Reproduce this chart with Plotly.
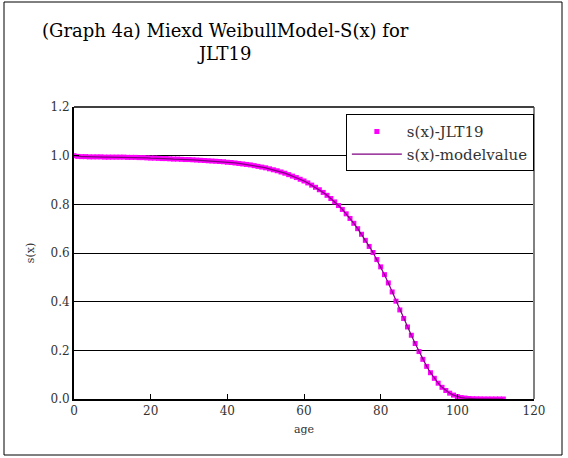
import plotly.graph_objects as go

ages = list(range(0, 113))
s_jlt19 = [
    1.000, 0.997, 0.996, 0.996, 0.995, 0.995, 0.995, 0.995, 0.994, 0.994,
    0.994, 0.994, 0.994, 0.994, 0.993, 0.993, 0.993, 0.992, 0.992, 0.991,
    0.990, 0.990, 0.989, 0.988, 0.988, 0.987, 0.986, 0.986, 0.985, 0.984,
    0.984, 0.983, 0.982, 0.981, 0.980, 0.979, 0.978, 0.977, 0.976, 0.975,
    0.973, 0.972, 0.970, 0.968, 0.966, 0.964, 0.962, 0.959, 0.956, 0.953,
    0.950, 0.946, 0.942, 0.938, 0.933, 0.928, 0.922, 0.916, 0.910, 0.903,
    0.896, 0.888, 0.879, 0.870, 0.860, 0.849, 0.837, 0.824, 0.810, 0.795,
    0.779, 0.761, 0.742, 0.722, 0.700, 0.677, 0.652, 0.627, 0.602, 0.573,
    0.543, 0.511, 0.477, 0.440, 0.402, 0.366, 0.331, 0.296, 0.262, 0.228,
    0.195, 0.163, 0.134, 0.108, 0.085, 0.065, 0.048, 0.035, 0.024, 0.016,
    0.010, 0.006, 0.004, 0.002, 0.001, 0.0006, 0.0003, 0.0001, 0.0000, 0.0000,
    0.0000, 0.0000, 0.0000,
]
s_model = list(s_jlt19)

x_ticks = [0, 20, 40, 60, 80, 100, 120]
y_ticks = [0.0, 0.2, 0.4, 0.6, 0.8, 1.0, 1.2]

FONT = "DejaVu Serif"

fig = go.Figure()
fig.add_trace(go.Scatter(
    x=ages, y=s_jlt19, mode="markers", name="s(x)-JLT19",
    marker=dict(symbol="square", size=5, color="#FF00FF", line=dict(width=0)),
))
fig.add_trace(go.Scatter(
    x=ages, y=s_model, mode="lines", name="s(x)-modelvalue",
    line=dict(color="#800080", width=1.2),
))

fig.update_layout(
    width=568, height=458,
    margin=dict(l=74, r=34, t=107, b=59),
    paper_bgcolor="white", plot_bgcolor="white",
    font=dict(family=FONT, color="#333333"),
    showlegend=True,
    legend=dict(
        x=0.591, y=0.975, xanchor="left", yanchor="top",
        bordercolor="black", borderwidth=1, bgcolor="white",
        font=dict(family=FONT, size=15, color="#333333"),
        tracegroupgap=0, itemwidth=50,
    ),
    annotations=[
        dict(
            text="(Graph 4a) Miexd WeibullModel-S(x) for<br>JLT19",
            xref="paper", yref="paper",
            x=(225 - 74) / 460, xanchor="center",
            y=(399 - 18) / 292, yanchor="top",
            showarrow=False, align="center",
            font=dict(family=FONT, size=18, color="black"),
        )
    ],
    xaxis=dict(
        range=[0, 120], tickvals=x_ticks, ticktext=[str(v) for v in x_ticks],
        showgrid=False, zeroline=False, showline=True, linecolor="black", linewidth=2,
        ticks="inside", ticklen=5, tickcolor="black",
        tickfont=dict(family=FONT, size=12, color="#333333"),
        title=dict(text="age", font=dict(family=FONT, size=11, color="#333333"), standoff=8),
    ),
    yaxis=dict(
        range=[0, 1.2], tickvals=y_ticks, ticktext=[f"{v:.1f}" for v in y_ticks],
        showgrid=True, gridcolor="black", gridwidth=1,
        zeroline=False, showline=True, linecolor="black", linewidth=2,
        ticks="inside", ticklen=5, tickcolor="black",
        tickfont=dict(family=FONT, size=12, color="#333333"),
        title=dict(text="s(x)", font=dict(family=FONT, size=11, color="#333333"), standoff=14),
    ),
    shapes=[
        dict(type="line", xref="paper", yref="paper", x0=1, x1=1, y0=0, y1=1,
             line=dict(color="#808080", width=2)),
        dict(type="line", xref="paper", yref="paper", x0=0, x1=1, y0=1, y1=1,
             line=dict(color="#404040", width=2)),
        dict(type="rect", xref="paper", yref="paper",
             x0=(4 - 74) / 460, x1=(562 - 74) / 460,
             y0=(399 - 455) / 292, y1=(399 - 2) / 292,
             line=dict(color="black", width=1), layer="below"),
    ],
)

fig.write_html("out.html", config={"displayModeBar": False},
               post_script="document.body.style.margin='0';")
